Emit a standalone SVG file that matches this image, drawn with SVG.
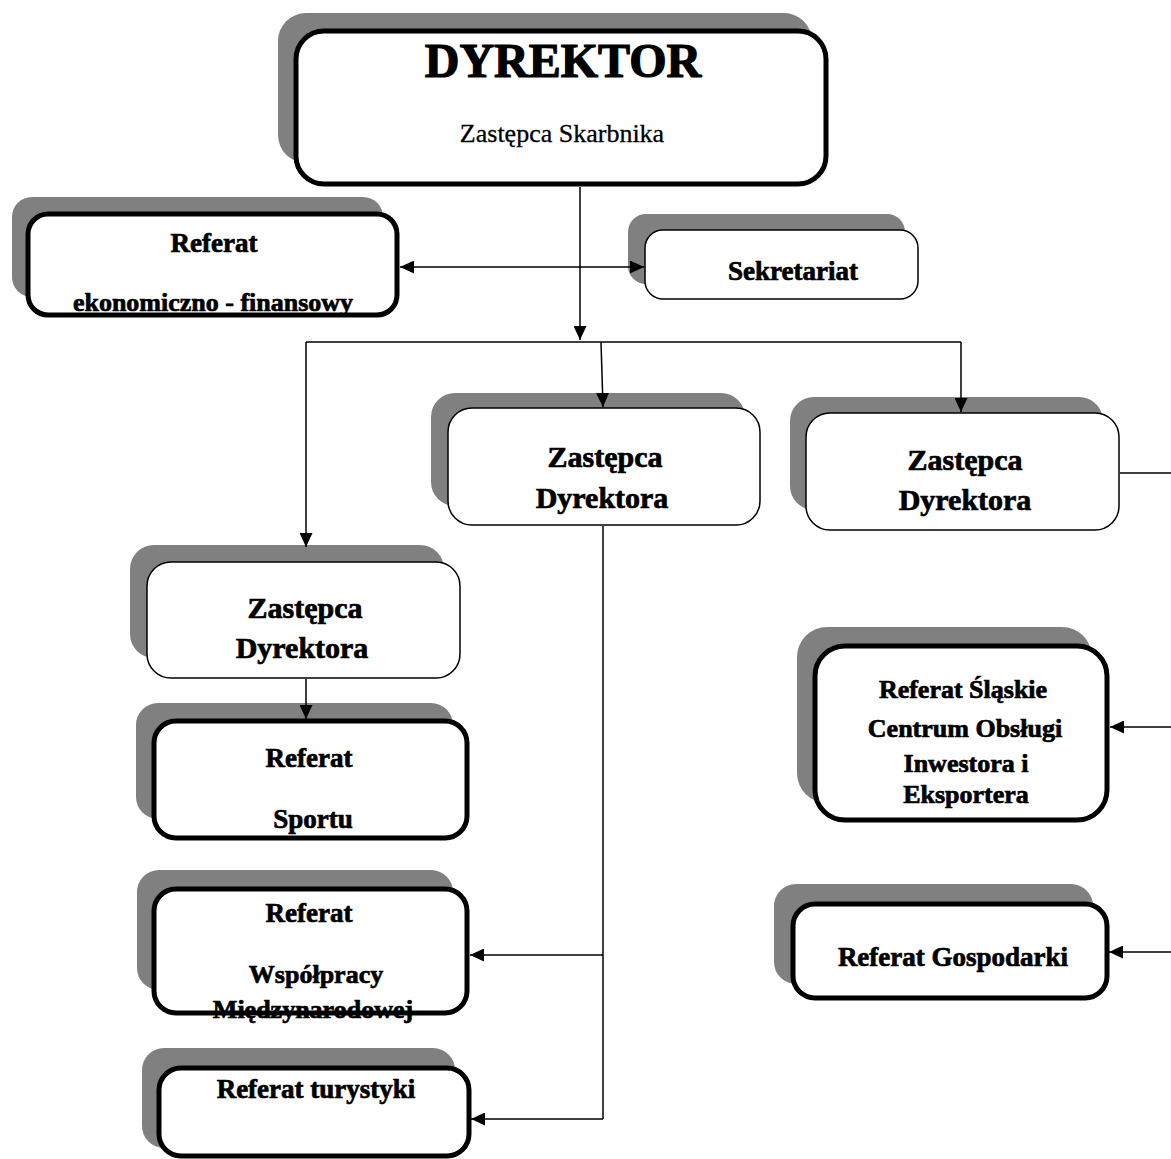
<svg xmlns="http://www.w3.org/2000/svg" width="1171" height="1159" viewBox="0 0 1171 1159">
<defs>
<marker id="arr" viewBox="0 0 14 13" refX="14" refY="6.5" markerWidth="14" markerHeight="13" markerUnits="userSpaceOnUse" orient="auto-start-reverse">
<path d="M0,0 L14,6.5 L0,13 Z" fill="#000"/>
</marker>
<style>
.sh{fill:#808080;stroke:none}
.bx{fill:#fff;stroke:#000;stroke-width:1.5}
.bxt{fill:#fff;stroke:#000;stroke-width:5}
.t{font-family:"Liberation Serif","Times New Roman",serif;font-weight:bold;text-anchor:middle;fill:#000;stroke:#000;stroke-width:0.7}
.r{font-family:"Liberation Serif","Times New Roman",serif;text-anchor:middle;fill:#000;stroke:#000;stroke-width:0.3}
.ln{fill:none;stroke:#000;stroke-width:1.5}
</style>
</defs>
<rect width="1171" height="1159" fill="#fff"/>

<g id="dyrektor">
<rect class="sh" x="278" y="13" width="534" height="150" rx="28"/>
<rect class="bxt" x="296" y="31" width="530" height="153" rx="28" stroke-width="4.5"/>
<text class="t" x="563" y="77" font-size="48" style="stroke-width:1.2">DYREKTOR</text>
<text class="r" x="562" y="142" font-size="26">Zastępca Skarbnika</text>
</g>

<g id="ref-ekonomiczno">
<rect class="sh" x="12" y="197" width="371" height="100" rx="20"/>
<rect class="bxt" x="28" y="214" width="369" height="101" rx="20"/>
<text class="t" x="214" y="252" font-size="27">Referat</text>
<text class="t" x="213" y="311" font-size="26">ekonomiczno - finansowy</text>
</g>

<g id="sekretariat">
<rect class="sh" x="628" y="214" width="277" height="70" rx="18"/>
<rect class="bx" x="645" y="230" width="273" height="69" rx="18"/>
<text class="t" x="793" y="280" font-size="27">Sekretariat</text>
</g>

<g id="zastepca-srodek">
<rect class="sh" x="431" y="393" width="314" height="113" rx="24"/>
<rect class="bx" x="448" y="408" width="312" height="117" rx="24"/>
<text class="t" x="605" y="467" font-size="30">Zastępca</text>
<text class="t" x="602" y="508" font-size="30">Dyrektora</text>
</g>

<g id="zastepca-prawy">
<rect class="sh" x="790" y="397" width="313" height="113" rx="24"/>
<rect class="bx" x="806" y="413" width="313" height="117" rx="24"/>
<text class="t" x="965" y="470" font-size="30">Zastępca</text>
<text class="t" x="965" y="510" font-size="30">Dyrektora</text>
</g>

<g id="zastepca-lewy">
<rect class="sh" x="130" y="545" width="314" height="113" rx="24"/>
<rect class="bx" x="147" y="562" width="313" height="116" rx="24"/>
<text class="t" x="305" y="618" font-size="30">Zastępca</text>
<text class="t" x="302" y="658" font-size="30">Dyrektora</text>
</g>

<g id="ref-sportu">
<rect class="sh" x="136" y="703" width="317" height="116" rx="22"/>
<rect class="bxt" x="154" y="721" width="313" height="117" rx="22"/>
<text class="t" x="309" y="767" font-size="27">Referat</text>
<text class="t" x="313" y="828" font-size="27">Sportu</text>
</g>

<g id="ref-wspolpracy">
<rect class="sh" x="137" y="870" width="316" height="120" rx="22"/>
<rect class="bxt" x="154" y="889" width="313" height="124" rx="22"/>
<text class="t" x="309" y="922" font-size="27">Referat</text>
<text class="t" x="316" y="983" font-size="26">Współpracy</text>
<text class="t" x="313" y="1018" font-size="26">Międzynarodowej</text>
</g>

<g id="ref-turystyki">
<rect class="sh" x="142" y="1048" width="313" height="100" rx="22"/>
<rect class="bxt" x="159" y="1068" width="310" height="88" rx="22"/>
<text class="t" x="316" y="1098" font-size="27">Referat turystyki</text>
</g>

<g id="ref-slaskie">
<rect class="sh" x="797" y="627" width="295" height="176" rx="30"/>
<rect class="bxt" x="815" y="646" width="292" height="174" rx="30"/>
<text class="t" x="963" y="698" font-size="26">Referat Śląskie</text>
<text class="t" x="965" y="737" font-size="26">Centrum Obsługi</text>
<text class="t" x="966" y="772" font-size="26">Inwestora i</text>
<text class="t" x="966" y="803" font-size="26">Eksportera</text>
</g>

<g id="ref-gospodarki">
<rect class="sh" x="774" y="884" width="319" height="100" rx="22"/>
<rect class="bxt" x="793" y="904" width="314" height="94" rx="22"/>
<text class="t" x="953" y="966" font-size="27">Referat Gospodarki</text>
</g>

<g id="connectors">
<path class="ln" d="M580,187 V340" marker-end="url(#arr)"/>
<path class="ln" d="M400,267 H644" marker-start="url(#arr)" marker-end="url(#arr)"/>
<path class="ln" d="M306,342 H961"/>
<path class="ln" d="M601,342 L603,407" marker-end="url(#arr)"/>
<path class="ln" d="M961,342 V412" marker-end="url(#arr)"/>
<path class="ln" d="M306,342 V547" marker-end="url(#arr)"/>
<path class="ln" d="M306,679 V719" marker-end="url(#arr)"/>
<path class="ln" d="M603,526 V1119"/>
<path class="ln" d="M603,955 H470" marker-end="url(#arr)"/>
<path class="ln" d="M603,1119 H471" marker-end="url(#arr)"/>
<path class="ln" d="M1120,473 H1171"/>
<path class="ln" d="M1171,727 H1110" marker-end="url(#arr)"/>
<path class="ln" d="M1171,952 H1109" marker-end="url(#arr)"/>
</g>
</svg>
